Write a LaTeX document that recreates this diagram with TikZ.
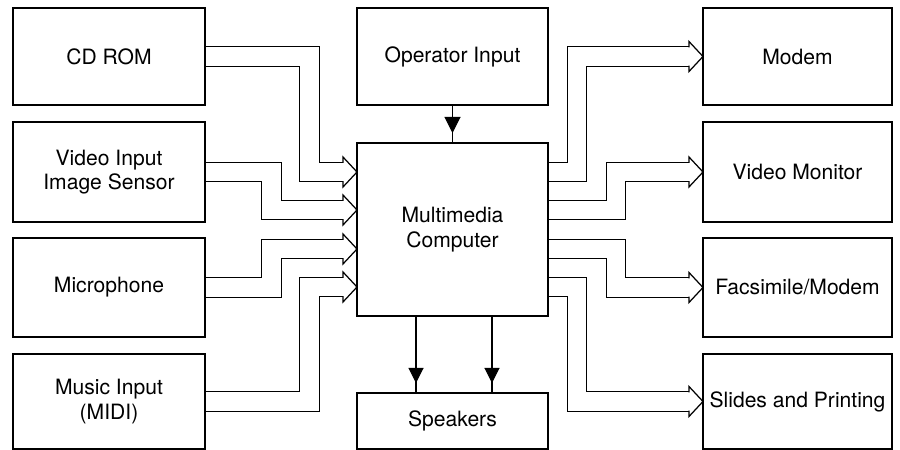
\documentclass[tikz,border=0pt]{standalone}
\usepackage{fontspec}
\setmainfont{TeX Gyre Heros}
\usetikzlibrary{arrows.meta,backgrounds}

\begin{document}
\begin{tikzpicture}[
    blk/.style={draw, line width=1.7pt, inner sep=0pt, outer sep=0pt,
        minimum width=3.82cm, align=center, font=\fontsize{12}{14}\selectfont},
    wire/.style={line width=0.6pt},
    hollow/.style={line width=0.7pt, double=white, double distance=10.4pt, line join=miter},
    hhead/.pic={\draw[line width=0.7pt, line join=miter]
        (-0.28,0.183) -- (-0.28,0.3) -- (0,0) -- (-0.28,-0.3) -- (-0.28,-0.183);}
]
    \useasboundingbox (0,0) rectangle (18,9);

    % inputs
    \node[blk, minimum width=3.84cm, minimum height=1.94cm] (cd)  at (2.18,7.87) {CD ROM};
    \node[blk, minimum width=3.84cm, minimum height=2.0cm]  (vid) at (2.18,5.56) {Video Input\\Image Sensor};
    \node[blk, minimum width=3.84cm, minimum height=1.98cm] (mic) at (2.18,3.25) {Microphone};
    \node[blk, minimum width=3.84cm, minimum height=1.9cm]  (mus) at (2.18,0.97) {Music Input\\(MIDI)};

    % middle column
    \node[blk, minimum height=1.94cm] (op)   at (9.05,7.87) {Operator Input};
    \node[blk, minimum height=3.46cm] (comp) at (9.05,4.41) {Multimedia\\Computer};
    \node[blk, minimum height=1.12cm] (spk)  at (9.05,0.58) {Speakers};

    % outputs
    \node[blk, minimum width=3.78cm, minimum height=1.94cm] (modem)  at (15.95,7.87) {Modem};
    \node[blk, minimum width=3.78cm, minimum height=2.0cm]  (vmon)   at (15.95,5.56) {Video Monitor};
    \node[blk, minimum width=3.78cm, minimum height=1.98cm] (fax)    at (15.95,3.25) {Facsimile/Modem};
    \node[blk, minimum width=3.78cm, minimum height=1.9cm]  (slides) at (15.95,0.97) {Slides and Printing};

    \begin{scope}[on background layer]
        % hollow arrows into the computer
        \draw[hollow] (cd.east)  -- ++(2.09,0) |- ([shift={(-0.28,1.15)}]comp.west);
        \draw[hollow] (vid.east) -- ++(1.33,0) |- ([shift={(-0.28,0.39)}]comp.west);
        \draw[hollow] (mic.east) -- ++(1.33,0) |- ([shift={(-0.28,-0.39)}]comp.west);
        \draw[hollow] (mus.east) -- ++(2.09,0) |- ([shift={(-0.28,-1.15)}]comp.west);
        \pic at ([yshift=1.15cm]comp.west) {hhead};
        \pic at ([yshift=0.39cm]comp.west) {hhead};
        \pic at ([yshift=-0.39cm]comp.west) {hhead};
        \pic at ([yshift=-1.15cm]comp.west) {hhead};

        % hollow arrows out of the computer
        \draw[hollow] ([yshift=1.15cm]comp.east)  -- ++(0.58,0) |- ([xshift=-0.28cm]modem.west);
        \draw[hollow] ([yshift=0.39cm]comp.east)  -- ++(1.36,0) |- ([xshift=-0.28cm]vmon.west);
        \draw[hollow] ([yshift=-0.39cm]comp.east) -- ++(1.36,0) |- ([xshift=-0.28cm]fax.west);
        \draw[hollow] ([yshift=-1.15cm]comp.east) -- ++(0.58,0) |- ([xshift=-0.28cm]slides.west);
        \pic at (modem.west)  {hhead};
        \pic at (vmon.west)   {hhead};
        \pic at (fax.west)    {hhead};
        \pic at (slides.west) {hhead};

        % plain arrows
        \draw[wire] (op.south) -- (comp.north);
        \draw[wire, -{Triangle[length=0.32cm, width=0.32cm]}] (op.south) -- ([yshift=0.2cm]comp.north);
        \draw[wire] ([xshift=-0.73cm]comp.south) -- ([xshift=-0.73cm]spk.north);
        \draw[wire, -{Triangle[length=0.3cm, width=0.3cm]}] ([xshift=-0.73cm]comp.south) -- ([shift={(-0.73,0.2)}]spk.north);
        \draw[wire] ([xshift=0.79cm]comp.south) -- ([xshift=0.79cm]spk.north);
        \draw[wire, -{Triangle[length=0.3cm, width=0.3cm]}] ([xshift=0.79cm]comp.south) -- ([shift={(0.79,0.2)}]spk.north);
    \end{scope}
\end{tikzpicture}
\end{document}
